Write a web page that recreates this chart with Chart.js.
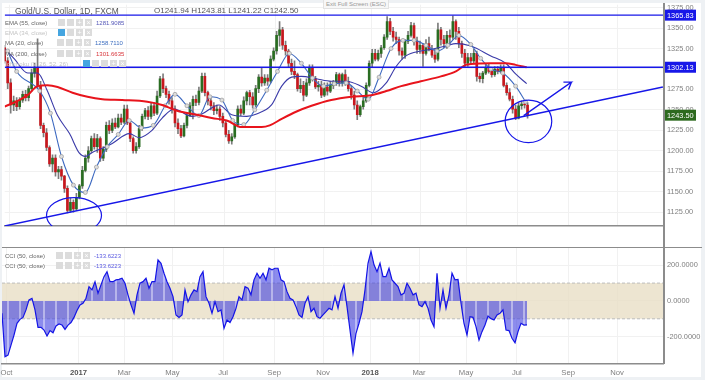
<!DOCTYPE html>
<html>
<head>
<meta charset="utf-8">
<title>Gold/U.S. Dollar</title>
<script src="https://cdn.jsdelivr.net/npm/chart.js@4"></script>
<style>
html, body { margin: 0; padding: 0; background: #eef1f4; overflow: hidden; }
#page { position: absolute; left: 0; top: 0; width: 705px; height: 380px; filter: blur(0.3px); font-family: "Liberation Sans", sans-serif; }
#sheet { position: absolute; left: 2px; top: 3px; width: 699px; height: 374px; background: #fff; }
canvas { position: absolute; left: 0; }
.rule { position: absolute; background: #8c8c8c; }
.txt { position: absolute; white-space: nowrap; line-height: 8px; font-size: 6px; color: #666; }
.box { position: absolute; width: 7px; height: 7px; background: #dcdcdc; color: #fff; font-size: 7px; line-height: 7px; text-align: center; }
.on { background: #45a5e0; }
</style>
</head>
<body>
<div id="page">
    <div id="sheet"></div>
    <canvas id="priceChart" width="705" height="248" style="top:0"></canvas>
    <canvas id="cciChart" width="705" height="140" style="top:240px"></canvas>
    <div class="rule" style="left:663px;top:3px;width:1.5px;height:361px"></div>
    <div class="rule" style="left:2px;top:247px;width:700px;height:1px"></div>

    <div class="txt" style="left:15px;top:7px;font-size:8.4px;color:#555">Gold/U.S. Dollar, 1D, FXCM</div>
    <div class="txt" style="left:154px;top:7px;font-size:8px;color:#555">O1241.94 H1243.81 L1241.22 C1242.50</div>

    <div class="txt" style="left:5px;top:19px">EMA (55, close)</div>
    <div class="txt" style="left:96px;top:19px;color:#5558b8">1281.9085</div>
    <div class="txt" style="left:5px;top:29px;color:#c4c4c4">EMA (34, close)</div>
    <div class="txt" style="left:5px;top:39px">MA (20, close)</div>
    <div class="txt" style="left:95px;top:39px;color:#3f6fc0">1258.7110</div>
    <div class="txt" style="left:5px;top:50px">MA (200, close)</div>
    <div class="txt" style="left:96px;top:50px;color:#d8343a">1301.6635</div>
    <div class="txt" style="left:5px;top:60px;color:#c4c4c4">Ichimoku (9, 26, 52, 26)</div>

    <div class="box" style="left:58px;top:19px"></div><div class="box" style="left:67px;top:19px"></div><div class="box" style="left:76px;top:19px">+</div><div class="box" style="left:85px;top:19px">×</div>
    <div class="box on" style="left:58px;top:29px"></div><div class="box" style="left:67px;top:29px"></div><div class="box" style="left:76px;top:29px">+</div><div class="box" style="left:85px;top:29px">×</div>
    <div class="box" style="left:57px;top:39px"></div><div class="box" style="left:66px;top:39px"></div><div class="box" style="left:75px;top:39px">+</div><div class="box" style="left:84px;top:39px">×</div>
    <div class="box" style="left:57px;top:50px"></div><div class="box" style="left:66px;top:50px"></div><div class="box" style="left:75px;top:50px">+</div><div class="box" style="left:84px;top:50px">×</div>
    <div class="box on" style="left:83px;top:60px"></div><div class="box" style="left:92px;top:60px"></div><div class="box" style="left:101px;top:60px"></div><div class="box" style="left:110px;top:60px">+</div><div class="box" style="left:119px;top:60px">×</div>

    <div class="txt" style="left:5px;top:252px">CCI (50, close)</div>
    <div class="txt" style="left:94px;top:252px;color:#5a5ae0">-133.6223</div>
    <div class="box" style="left:56px;top:252px"></div><div class="box" style="left:65px;top:252px"></div><div class="box" style="left:74px;top:252px">+</div><div class="box" style="left:83px;top:252px">×</div>
    <div class="txt" style="left:5px;top:262px">CCI (50, close)</div>
    <div class="txt" style="left:94px;top:262px;color:#5a5ae0">-133.6223</div>
    <div class="box" style="left:56px;top:262px"></div><div class="box" style="left:65px;top:262px"></div><div class="box" style="left:74px;top:262px">+</div><div class="box" style="left:83px;top:262px">×</div>

    <div class="txt" style="left:323px;top:0;width:64px;height:8px;text-align:center;color:#999;background:#f7f7f7;border:1px solid #e2e2e2;border-top:0">Exit Full Screen (ESC)</div>
</div>
<script>
(function () {
    "use strict";

    // Candles, one every few sessions
    const candleOpen = [
        1326, 1310, 1283, 1256, 1261, 1254, 1262, 1269, 1265, 1276, 1295, 1302, 1280, 1231, 1222, 1204,
        1184, 1191, 1174, 1177, 1169, 1154, 1127, 1137, 1129, 1143, 1157, 1176, 1191, 1200, 1215, 1205,
        1215, 1191, 1202, 1231, 1225, 1234, 1229, 1240, 1235, 1251, 1234, 1215, 1200, 1205, 1227, 1242,
        1249, 1242, 1255, 1246, 1267, 1288, 1276, 1269, 1261, 1251, 1234, 1227, 1218, 1231, 1243, 1255,
        1263, 1259, 1273, 1291, 1271, 1261, 1255, 1249, 1251, 1242, 1234, 1220, 1212, 1217, 1232, 1251,
        1246, 1261, 1271, 1266, 1256, 1276, 1290, 1283, 1289, 1285, 1312, 1322, 1341, 1348, 1329, 1322,
        1307, 1297, 1293, 1276, 1280, 1268, 1283, 1302, 1288, 1278, 1280, 1268, 1278, 1273, 1280, 1283,
        1293, 1283, 1293, 1285, 1276, 1268, 1256, 1244, 1254, 1261, 1280, 1307, 1319, 1312, 1319, 1326,
        1339, 1358, 1346, 1339, 1336, 1322, 1317, 1334, 1341, 1353, 1334, 1324, 1329, 1319, 1331, 1324,
        1317, 1312, 1348, 1336, 1331, 1341, 1339, 1358, 1346, 1331, 1319, 1307, 1314, 1310, 1319, 1291,
        1288, 1295, 1302, 1297, 1293, 1300, 1297, 1302, 1280, 1271, 1263, 1251, 1240, 1255, 1257, 1256,
    ];
    const candleHigh = [
        1329, 1314, 1288, 1267, 1265, 1265, 1273, 1274, 1279, 1300, 1307, 1337, 1285, 1234, 1227, 1206,
        1195, 1195, 1181, 1181, 1170, 1157, 1142, 1140, 1148, 1159, 1181, 1195, 1205, 1218, 1221, 1220,
        1217, 1205, 1235, 1237, 1239, 1240, 1245, 1245, 1256, 1256, 1237, 1217, 1210, 1231, 1245, 1252,
        1254, 1259, 1259, 1273, 1291, 1294, 1279, 1273, 1265, 1255, 1239, 1231, 1234, 1246, 1259, 1267,
        1268, 1278, 1295, 1295, 1273, 1266, 1259, 1256, 1254, 1246, 1237, 1225, 1221, 1234, 1255, 1256,
        1266, 1273, 1274, 1271, 1280, 1293, 1301, 1293, 1293, 1316, 1326, 1346, 1358, 1351, 1334, 1324,
        1312, 1310, 1295, 1288, 1285, 1288, 1305, 1305, 1291, 1285, 1285, 1283, 1283, 1285, 1286, 1296,
        1295, 1295, 1299, 1290, 1279, 1273, 1261, 1256, 1266, 1283, 1310, 1324, 1324, 1323, 1329, 1342,
        1364, 1362, 1351, 1345, 1339, 1326, 1336, 1346, 1357, 1356, 1339, 1334, 1331, 1336, 1339, 1329,
        1324, 1356, 1351, 1341, 1346, 1348, 1365, 1360, 1351, 1334, 1324, 1319, 1319, 1324, 1322, 1295,
        1297, 1306, 1307, 1302, 1303, 1303, 1305, 1305, 1283, 1276, 1267, 1256, 1259, 1261, 1261, 1259,
    ];
    const candleLow = [
        1307, 1276, 1246, 1249, 1249, 1251, 1259, 1261, 1261, 1273, 1290, 1276, 1227, 1217, 1200, 1181,
        1174, 1169, 1166, 1164, 1149, 1124, 1125, 1125, 1127, 1141, 1154, 1174, 1186, 1198, 1202, 1198,
        1187, 1188, 1199, 1221, 1222, 1227, 1228, 1232, 1233, 1232, 1211, 1197, 1197, 1203, 1225, 1239,
        1238, 1239, 1243, 1244, 1265, 1271, 1265, 1257, 1246, 1229, 1221, 1216, 1217, 1228, 1242, 1239,
        1255, 1256, 1271, 1267, 1256, 1250, 1244, 1245, 1237, 1229, 1217, 1209, 1208, 1215, 1229, 1243,
        1244, 1256, 1256, 1252, 1254, 1271, 1279, 1280, 1280, 1283, 1310, 1318, 1328, 1324, 1317, 1302,
        1293, 1288, 1273, 1271, 1261, 1266, 1280, 1285, 1276, 1273, 1265, 1266, 1268, 1271, 1276, 1280,
        1279, 1279, 1280, 1273, 1263, 1251, 1238, 1242, 1251, 1259, 1278, 1302, 1310, 1310, 1314, 1324,
        1336, 1342, 1334, 1331, 1317, 1312, 1313, 1331, 1339, 1329, 1319, 1319, 1303, 1317, 1322, 1314,
        1308, 1310, 1329, 1326, 1325, 1331, 1336, 1336, 1326, 1314, 1302, 1303, 1306, 1307, 1285, 1284,
        1283, 1293, 1295, 1290, 1291, 1294, 1295, 1278, 1268, 1261, 1246, 1238, 1239, 1251, 1252, 1240,
    ];
    const candleClose = [
        1310, 1283, 1256, 1261, 1254, 1262, 1269, 1265, 1276, 1295, 1302, 1280, 1231, 1222, 1204, 1184,
        1191, 1174, 1177, 1169, 1154, 1127, 1137, 1129, 1143, 1157, 1176, 1191, 1200, 1215, 1205, 1215,
        1191, 1202, 1231, 1225, 1234, 1229, 1240, 1235, 1251, 1234, 1215, 1200, 1205, 1227, 1242, 1249,
        1242, 1255, 1246, 1267, 1288, 1276, 1269, 1261, 1251, 1234, 1227, 1218, 1231, 1243, 1255, 1263,
        1259, 1273, 1291, 1271, 1261, 1255, 1249, 1251, 1242, 1234, 1220, 1212, 1217, 1232, 1251, 1246,
        1261, 1271, 1266, 1256, 1276, 1290, 1283, 1289, 1285, 1312, 1322, 1341, 1348, 1329, 1322, 1307,
        1297, 1293, 1276, 1280, 1268, 1283, 1302, 1288, 1278, 1280, 1268, 1278, 1273, 1280, 1283, 1293,
        1283, 1293, 1285, 1276, 1268, 1256, 1244, 1254, 1261, 1280, 1307, 1319, 1312, 1319, 1326, 1339,
        1358, 1346, 1339, 1336, 1322, 1317, 1334, 1341, 1353, 1334, 1324, 1329, 1319, 1331, 1324, 1317,
        1312, 1348, 1336, 1331, 1341, 1339, 1358, 1346, 1331, 1319, 1307, 1314, 1310, 1319, 1291, 1288,
        1295, 1302, 1297, 1293, 1300, 1297, 1302, 1280, 1271, 1263, 1251, 1240, 1255, 1257, 1256, 1243.5,
    ];

    // Moving averages, x is the candle position
    const ma200Bars = [0, 4.3, 7.7, 11, 14.3, 17.7, 22.7, 27.7, 32.7, 39.3, 47.7, 52.7, 57.7, 64.3, 69.3, 74.3, 79.3, 86, 88.7, 92.7, 97.7, 102.7, 109.3, 116, 122.7, 127.7, 132.7, 139.3, 146, 151, 154.3, 156, 162.7, 167.7, 171, 174.7];
    const ma200Values = [1254, 1261, 1268, 1279, 1280, 1278, 1271, 1266, 1263, 1262, 1260, 1256, 1249, 1244, 1240, 1237, 1229, 1229, 1231, 1239, 1248, 1255, 1262, 1266, 1268, 1273, 1279, 1285, 1291, 1297, 1305, 1306, 1307, 1307, 1305, 1302];
    const ma20Bars = [1, 4, 11.7, 15.3, 19, 23, 27, 30.7, 34.3, 38, 41.7, 45.7, 49.7, 53.7, 57, 61, 65, 68.7, 72.7, 76.3, 80, 83.7, 87.7, 91.3, 95.3, 99.3, 103, 106.7, 110.3, 114.3, 118, 121.7, 125.3, 129.3, 133.3, 137, 141, 144.7, 148.3, 152, 156, 159.3, 162.7, 166.7, 171, 174.3];
    const ma20Values = [1322, 1297, 1273, 1246, 1193, 1158, 1149, 1180, 1205, 1220, 1237, 1228, 1231, 1255, 1269, 1255, 1243, 1266, 1262, 1237, 1232, 1250, 1274, 1297, 1319, 1307, 1289, 1279, 1282, 1283, 1273, 1263, 1290, 1325, 1335, 1335, 1329, 1322, 1329, 1341, 1330, 1313, 1300, 1295, 1279, 1260];
    const ema55Bars = [0.3, 3.3, 7.7, 11, 14.3, 17.7, 21.7, 25, 27, 29.3, 32.7, 36, 41.7, 45, 49.3, 52.7, 56.7, 62.7, 66, 71.7, 76, 81, 84.3, 89.3, 92.7, 96, 99.3, 104.3, 109.3, 114.3, 119.3, 123.3, 127.7, 131, 134.3, 139.3, 142.7, 147.7, 151, 156, 162.7, 167.7, 171, 174.7];
    const ema55Values = [1324, 1312, 1295, 1295, 1273, 1243, 1221, 1197, 1193, 1198, 1203, 1209, 1221, 1216, 1225, 1240, 1251, 1242, 1245, 1256, 1244, 1242, 1245, 1256, 1279, 1290, 1291, 1288, 1285, 1285, 1279, 1271, 1283, 1303, 1316, 1322, 1324, 1328, 1331, 1328, 1316, 1307, 1294, 1282];

    // Drawn levels, trend line, arrow and circles
    const levelPrices = [1365.83, 1302.13];
    const trendBars = [0, 220.3];
    const trendPrices = [1108, 1278];
    const arrowBars = [173.7, 189.7, 187, 189.7, 188.7];
    const arrowPrices = [1243, 1284, 1284, 1284, 1275];
    const circleBars = [23.2, 175.3];
    const circlePrices = [1121, 1236];
    const circleBarRadius = [9.2, 7.8];
    const circlePriceRadius = [21.8, 26];

    // Price tags on the axis
    const tagPrices = [1365.83, 1302.13, 1243.5];
    const tagColors = ["#1717e8", "#1717e8", "#2d6a1f"];

    // CCI, same candle positions
    const cciValues = [
        -69, -312, -303, -247, -191, -125, -103, -92, -50, 6, 15, -50, -148, -148, -163, -196,
        -166, -178, -140, -129, -135, -159, -135, -121, -92, -54, -22, -13, 15, 80, 62, 108,
        43, 90, 136, 164, 108, 108, 118, 121, 127, 99, 34, -22, -69, 34, 99, 108,
        127, 71, 108, 108, 230, 211, 155, 108, 71, 24, -78, -92, -78, 62, -4, 34,
        62, 52, 136, 164, 24, -13, -69, -4, -60, -50, -153, -107, -121,
        -88, -41, 24, 6, 80, 71, 34, 118, 155, 127,
        155, 118, 183, 174, 183, 183, 118, 108, 52, 15,
        6, -32, -78, -92, -13, 24, -60, -41, -88, -97,
        -78, -60, -41, -50, 24, -41, 43, 90, -32, -163,
        -293, -181, -125, -60, 62, 211, 277, 202, 164, 211,
        136, 136, 183, 118, 99, 80, 34, 43, 99, 71,
        34, 43, -22, -32, -4, -41, -107, -144, 155, -41,
        62, -41, 34, 155, 118, 121, -13, -125, -191, -88,
        -92, -144, -219, -172, -135, -84, -99, -107, -78, -69,
        -50, -163, -166, -209, -234, -172, -125, -135, -134,
    ];
    const cciBand = [100, -100];

    // Axes
    const lastBar = 220.33;
    const timeBars = [1.5, 25.5, 40.7, 56.8, 73.7, 90.7, 107, 122.7, 139, 154.7, 171.6, 188.7, 205];
    const timeLabels = ["Oct", "2017", "Mar", "May", "Jul", "Sep", "Nov", "2018", "Mar", "May", "Jul", "Sep", "Nov"];
    const priceTicks = [1125, 1150, 1175, 1200, 1225, 1250, 1275, 1300, 1325, 1350, 1375];
    const cciTicks = [-200, 0, 200];

    const red = "#c8171d";
    const green = "#2a6d22";
    const drawBlue = "#1717e8";
    const axisText = "#808080";
    const gridColor = "#f1f1f1";
    const tickFont = { family: "Liberation Sans", size: 7.4 };

    const xy = (xs, ys) => xs.map((x, i) => ({ x: x, y: ys[i] }));

    const candleColors = candleClose.map((c, i) => (c < candleOpen[i] ? red : green));

    // keeps the plot edges where the reference has them, whatever the labels measure
    function fixBox(width, height) {
        return function (axis) {
            if (width) axis.width = width;
            if (height) axis.height = height;
            axis.paddingLeft = 0;
            axis.paddingRight = 0;
            axis.paddingTop = 0;
            axis.paddingBottom = 0;
        };
    }

    const circlesPlugin = {
        id: "circles",
        afterDatasetsDraw(chart) {
            const { ctx, chartArea, scales } = chart;
            ctx.save();
            ctx.beginPath();
            ctx.rect(chartArea.left, chartArea.top, chartArea.width, chartArea.height);
            ctx.clip();
            ctx.strokeStyle = drawBlue;
            ctx.lineWidth = 1.2;
            circleBars.forEach((bar, i) => {
                const cx = scales.x.getPixelForValue(bar);
                const cy = scales.y.getPixelForValue(circlePrices[i]);
                const rx = scales.x.getPixelForValue(bar + circleBarRadius[i]) - cx;
                const ry = cy - scales.y.getPixelForValue(circlePrices[i] + circlePriceRadius[i]);
                ctx.beginPath();
                ctx.ellipse(cx, cy, rx, ry, 0, 0, Math.PI * 2);
                ctx.stroke();
            });
            ctx.restore();
        },
    };

    const tagsPlugin = {
        id: "tags",
        afterDraw(chart) {
            const { ctx, scales } = chart;
            ctx.save();
            ctx.textAlign = "left";
            ctx.textBaseline = "middle";
            ctx.font = "7.4px 'Liberation Sans'";
            tagPrices.forEach((price, i) => {
                const y = scales.y.getPixelForValue(price);
                ctx.fillStyle = tagColors[i];
                ctx.fillRect(664, y - 5.5, 32, 11);
                ctx.fillStyle = "#fff";
                ctx.fillText(price.toFixed(2), 667, y + 0.5);
            });
            ctx.restore();
        },
    };

    const timeAxis = (showLabels, height) => ({
        type: "linear",
        min: 0,
        max: lastBar,
        offset: false,
        afterBuildTicks: (axis) => {
            axis.ticks = timeBars.map((v) => ({ value: v }));
        },
        afterFit: fixBox(0, height),
        grid: { color: gridColor, offset: false, drawTicks: false },
        border: { display: true, color: "#8c8c8c", width: 1.5 },
        ticks: {
            display: showLabels,
            autoSkip: false,
            maxRotation: 0,
            padding: 4,
            color: (ctx) => (ctx.index === 1 || ctx.index === 7 ? "#555" : axisText),
            font: (ctx) => ({
                family: "Liberation Sans",
                size: 7.7,
                weight: ctx.index === 1 || ctx.index === 7 ? "bold" : "normal",
            }),
            callback: (value, i) => timeLabels[i],
        },
    });

    const sideAxis = (min, max, tickValues, label) => ({
        position: "right",
        min: min,
        max: max,
        afterBuildTicks: (axis) => {
            axis.ticks = tickValues.map((v) => ({ value: v }));
        },
        afterFit: fixBox(42, 0),
        grid: { color: gridColor, drawTicks: false },
        border: { display: false },
        ticks: { color: axisText, font: tickFont, padding: 4, callback: label },
    });

    new Chart(document.getElementById("priceChart"), {
        type: "bar",
        data: {
            datasets: [
                {
                    label: "Wicks",
                    data: candleHigh.map((h, i) => ({ x: i, y: [candleLow[i], h] })),
                    backgroundColor: "#7c7c7c",
                    barThickness: 1,
                    grouped: false,
                    order: 7,
                },
                {
                    label: "Candles",
                    data: candleOpen.map((o, i) => ({ x: i, y: [o, candleClose[i]] })),
                    backgroundColor: candleColors,
                    barThickness: 2,
                    grouped: false,
                    order: 6,
                },
                {
                    type: "line",
                    label: "MA 200",
                    data: xy(ma200Bars, ma200Values),
                    borderColor: "#e8141c",
                    borderWidth: 2,
                    pointRadius: 0,
                    cubicInterpolationMode: "monotone",
                    order: 3,
                },
                {
                    type: "line",
                    label: "EMA 55",
                    data: xy(ema55Bars, ema55Values),
                    borderColor: "#3a3aa8",
                    borderWidth: 1.1,
                    pointRadius: 0,
                    cubicInterpolationMode: "monotone",
                    order: 5,
                },
                {
                    type: "line",
                    label: "MA 20",
                    data: xy(ma20Bars, ma20Values),
                    borderColor: "#3d69c0",
                    borderWidth: 1.1,
                    pointRadius: 2,
                    pointBackgroundColor: "#dddddd",
                    pointBorderColor: "#9a9a9a",
                    pointBorderWidth: 0.7,
                    cubicInterpolationMode: "monotone",
                    order: 4,
                },
                {
                    type: "line",
                    label: "Resistance",
                    data: xy([0, lastBar], [levelPrices[0], levelPrices[0]]),
                    borderColor: drawBlue,
                    borderWidth: 1.4,
                    pointRadius: 0,
                    order: 1,
                },
                {
                    type: "line",
                    label: "Support",
                    data: xy([0, lastBar], [levelPrices[1], levelPrices[1]]),
                    borderColor: drawBlue,
                    borderWidth: 1.4,
                    pointRadius: 0,
                    order: 1,
                },
                {
                    type: "line",
                    label: "Trend",
                    data: xy(trendBars, trendPrices),
                    borderColor: drawBlue,
                    borderWidth: 1.4,
                    pointRadius: 0,
                    order: 1,
                },
                {
                    type: "line",
                    label: "Arrow",
                    data: xy(arrowBars, arrowPrices),
                    borderColor: drawBlue,
                    borderWidth: 1.3,
                    pointRadius: 0,
                    order: 1,
                },
            ],
        },
        options: {
            responsive: false,
            animation: false,
            devicePixelRatio: 1,
            layout: { padding: { left: 2, top: 3, right: 0, bottom: 0 } },
            plugins: { legend: { display: false }, tooltip: { enabled: false } },
            scales: {
                x: timeAxis(false, 22),
                y: sideAxis(1108, 1378.6, priceTicks, (v) => v.toFixed(2)),
            },
        },
        plugins: [circlesPlugin, tagsPlugin],
    });

    new Chart(document.getElementById("cciChart"), {
        type: "bar",
        data: {
            datasets: [
                {
                    type: "line",
                    label: "Band",
                    data: xy([0, lastBar], [cciBand[0], cciBand[0]]),
                    borderColor: "#bdbdbd",
                    borderWidth: 1,
                    borderDash: [3, 2],
                    backgroundColor: "rgba(232, 222, 198, 0.8)",
                    fill: "+1",
                    pointRadius: 0,
                    order: 6,
                },
                {
                    type: "line",
                    label: "Band low",
                    data: xy([0, lastBar], [cciBand[1], cciBand[1]]),
                    borderColor: "#bdbdbd",
                    borderWidth: 1,
                    borderDash: [3, 2],
                    pointRadius: 0,
                    order: 5,
                },
                {
                    type: "line",
                    label: "CCI fill",
                    data: cciValues.map((v, i) => ({ x: i, y: v })),
                    borderWidth: 0,
                    backgroundColor: "rgba(64, 64, 225, 0.6)",
                    fill: { value: 0 },
                    pointRadius: 0,
                    order: 4,
                },
                {
                    label: "CCI gaps",
                    data: cciValues.map((v, i) => ({ x: i, y: [0, v] })).filter((d) => d.x % 4 === 2),
                    backgroundColor: "rgba(255, 255, 255, 0.5)",
                    barThickness: 1,
                    grouped: false,
                    order: 3,
                },
                {
                    type: "line",
                    label: "CCI",
                    data: cciValues.map((v, i) => ({ x: i, y: v })),
                    borderColor: "#1414e6",
                    borderWidth: 1.2,
                    pointRadius: 0,
                    order: 1,
                },
            ],
        },
        options: {
            responsive: false,
            animation: false,
            devicePixelRatio: 1,
            layout: { padding: { left: 2, top: 7, right: 0, bottom: 0 } },
            plugins: { legend: { display: false }, tooltip: { enabled: false } },
            scales: {
                x: timeAxis(true, 16),
                y: sideAxis(-353, 302, cciTicks, (v) => v.toFixed(4)),
            },
        },
    });
})();
</script>
</body>
</html>
